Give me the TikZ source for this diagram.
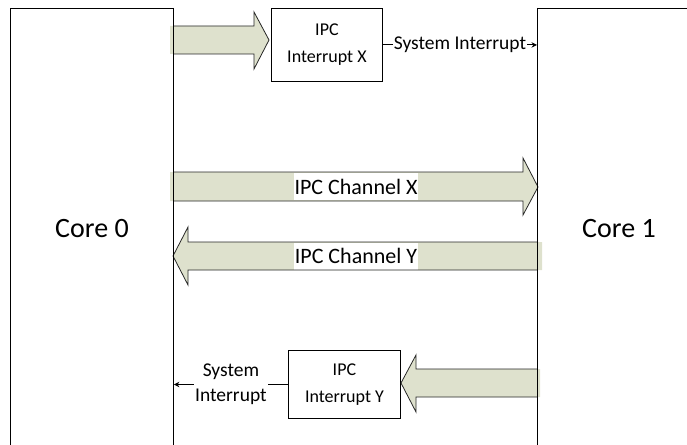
\documentclass[tikz,border=0pt]{standalone}
\usepackage{fontspec}
\setmainfont{Carlito}
\usetikzlibrary{arrows.meta}
\definecolor{arrfill}{RGB}{222,225,205}
\begin{document}
\begin{tikzpicture}[x=1pt,y=-1pt,
  corebox/.style={draw, line width=0.9pt, inner sep=0pt, anchor=north west},
  corelabel/.style={font=\fontsize{28}{32}\selectfont},
  ipcbox/.style={draw, line width=0.9pt, fill=white, align=center, inner sep=0pt,
    anchor=north west, font=\fontsize{18}{27}\selectfont},
  chanlabel/.style={fill=white, inner xsep=1pt, inner ysep=0pt, minimum height=27pt,
    font=\fontsize{22}{26}\selectfont},
  syslabel/.style={fill=white, inner sep=1pt, align=center, font=\fontsize{19.5}{25}\selectfont},
  sysline/.style={line width=0.9pt, -{Stealth[length=5.5pt,width=5.5pt]}},
  fatfill/.style={fill=arrfill},
  fatline/.style={draw=black!85, line width=0.8pt, line join=miter}
]
\useasboundingbox (0,0) rectangle (687,444);
\clip (0,0) rectangle (687,444);

% cores
\node[corebox, minimum width=163pt, minimum height=460pt] (core0) at (10,8) {};
\node[corebox, minimum width=170pt, minimum height=460pt] (core1) at (537,8) {};
\node[corelabel] (c0label) at (92,229) {Core 0};
\node[corelabel] (c1label) at (619,229) {Core 1};

% IPC interrupt boxes
\node[ipcbox, minimum width=111pt, minimum height=73pt] (ipcx) at (271,8) {IPC\\Interrupt X};
\node[ipcbox, minimum width=112pt, minimum height=68pt] (ipcy) at (288,350) {IPC\\Interrupt Y};

% top fat arrow (core0 -> IPC Interrupt X)
\fill[fatfill] (170,26) -- (254,26) -- (254,12) -- (269,40) -- (254,69) -- (254,54) -- (170,54) -- cycle;
\draw[fatline] (173,26) -- (254,26) -- (254,12) -- (269,40) -- (254,69) -- (254,54) -- (173,54);

% IPC Channel X
\fill[fatfill] (170,172) -- (523,172) -- (523,158) -- (538,187) -- (523,215) -- (523,201) -- (170,201) -- cycle;
\node[chanlabel] (chx) at (356,186.5) {IPC Channel X};
\draw[fatline] (173,172) -- (523,172) -- (523,158) -- (538,187) -- (523,215) -- (523,201) -- (173,201);

% IPC Channel Y
\fill[fatfill] (542,242) -- (188,242) -- (188,227) -- (173,256) -- (188,285) -- (188,270) -- (542,270) -- cycle;
\node[chanlabel] (chy) at (356,256) {IPC Channel Y};
\draw[fatline] (537,242) -- (188,242) -- (188,227) -- (173,256) -- (188,285) -- (188,270) -- (537,270);

% bottom fat arrow (core1 -> IPC Interrupt Y)
\fill[fatfill] (540,369) -- (416,369) -- (416,355) -- (401,383) -- (416,412) -- (416,397) -- (540,397) -- cycle;
\draw[fatline] (537,369) -- (416,369) -- (416,355) -- (401,383) -- (416,412) -- (416,397) -- (537,397);

% redraw core edges over arrow fills
\draw[line width=0.9pt] (core0.north east) -- (core0.south east);
\draw[line width=0.9pt] (core1.north west) -- (core1.south west);

% system interrupt connectors
\draw[sysline] (ipcx.east) -- (ipcx.east -| core1.west)
  node[midway, syslabel] (sysx) {System Interrupt};
\draw[sysline] (ipcy.west) -- (ipcy.west -| core0.east)
  node[midway, syslabel] (sysy) {System\\Interrupt};
\end{tikzpicture}
\end{document}
